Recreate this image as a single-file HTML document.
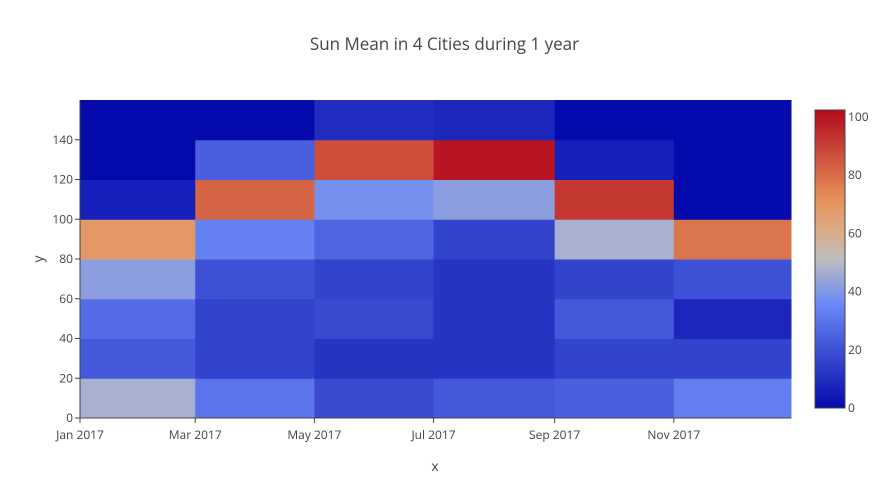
<!DOCTYPE html>
<html><head><meta charset="utf-8"><style>
body{margin:0;background:#fff;font-family:"Open Sans","Liberation Sans",sans-serif;}
svg text{fill:#444;}
</style></head><body>
<svg width="889" height="499" xmlns="http://www.w3.org/2000/svg">
<text x="444.5" y="50" text-anchor="middle" font-size="17">Sun Mean in 4 Cities during 1 year</text>
<g id="cells"></g><g id="axes"></g><g id="cbar"></g>
<text x="435" y="471" text-anchor="middle" font-size="14">x</text>
<text x="43" y="259" text-anchor="middle" font-size="14" transform="rotate(-90 43 259)">y</text>
</svg>
<script>
const binStartDays = [0,59,120,181,243,304,365];
const xTickLabels = ["Jan 2017","Mar 2017","May 2017","Jul 2017","Sep 2017","Nov 2017"];
const yBins = [0,20,40,60,80,100,120,140,160];
const yTicks = [0,20,40,60,80,100,120,140];
const cbTicks = [0,20,40,60,80,100];
// values[col][row], rows bottom to top
const colJan = [47,22,28,42,69,6,0,0];
const colMar = [30,16,16,20,34,82,24,0];
const colMay = [18,12,18,16,26,38,87,10];
const colJul = [22,12,12,12,16,42,100,8];
const colSep = [24,16,22,16,47,92,6,0];
const colNov = [33,16,8,20,78,0,0,0];
const values = [colJan,colMar,colMay,colJul,colSep,colNov];
const zmax = 102.4;

const NS="http://www.w3.org/2000/svg";
const X0=80,X1=791,Y0=418,Y1=100,XD=364;
const xs=d=>Math.min(X1,X0+(X1-X0)*d/XD);
const ys=v=>Y0-(Y0-Y1)*v/160;
const stops=[[0,[5,10,172]],[0.35,[106,137,247]],[0.5,[190,190,190]],[0.6,[220,170,132]],[0.7,[230,145,90]],[1,[178,10,28]]];
function color(v){let t=Math.max(0,Math.min(1,v/zmax));for(let i=1;i<stops.length;i++){if(t<=stops[i][0]){const a=stops[i-1],b=stops[i];const f=(t-a[0])/(b[0]-a[0]);return 'rgb('+a[1].map((c,k)=>Math.round(c+(b[1][k]-c)*f)).join(',')+')';}}return 'rgb(178,10,28)';}
function mk(tag,attrs,parent){const e=document.createElementNS(NS,tag);for(const k in attrs)e.setAttribute(k,attrs[k]);parent.appendChild(e);return e;}
const cells=document.getElementById('cells');
values.forEach((col,i)=>col.forEach((v,j)=>{
  const r=mk('rect',{x:xs(binStartDays[i]),y:ys(yBins[j+1]),width:Math.max(0,xs(binStartDays[i+1])-xs(binStartDays[i])+0.5),height:ys(yBins[j])-ys(yBins[j+1])+0.5,fill:color(v)},cells);
  
  
}));
const ax=document.getElementById('axes');
mk('line',{x1:X0,y1:Y0,x2:X1,y2:Y0,stroke:'#444'},ax);
mk('line',{x1:X0,y1:Y0,x2:X0,y2:Y1,stroke:'#444'},ax);
xTickLabels.forEach((l,i)=>{const x=xs(binStartDays[i]);
  mk('line',{x1:x,y1:Y0,x2:x,y2:Y0+5,stroke:'#444'},ax);
  const t=mk('text',{x:x,y:Y0+21,'text-anchor':'middle','font-size':12},ax);t.textContent=l;
  
  });
yTicks.forEach(v=>{const y=ys(v);
  mk('line',{x1:X0-5,y1:y,x2:X0,y2:y,stroke:'#444'},ax);
  const t=mk('text',{x:X0-7,y:y+4,'text-anchor':'end','font-size':12},ax);t.textContent=v;
  
  });
const cb=document.getElementById('cbar');
const CB0=408,CB1=110;
const defs=mk('defs',{},cb);const g=mk('linearGradient',{id:'cg',x1:0,y1:1,x2:0,y2:0},defs);
for(let k=0;k<=20;k++)mk('stop',{offset:k/20,'stop-color':color(zmax*k/20)},g);
const cr=mk('rect',{x:815,y:CB1,width:30,height:CB0-CB1,fill:'url(#cg)',stroke:'#444','stroke-width':1},cb);


cbTicks.forEach(v=>{const y=CB0-(CB0-CB1)*v/zmax;const t=mk('text',{x:848,y:y+4,'font-size':12},cb);t.textContent=v;
  
  });
</script>
</body></html>
